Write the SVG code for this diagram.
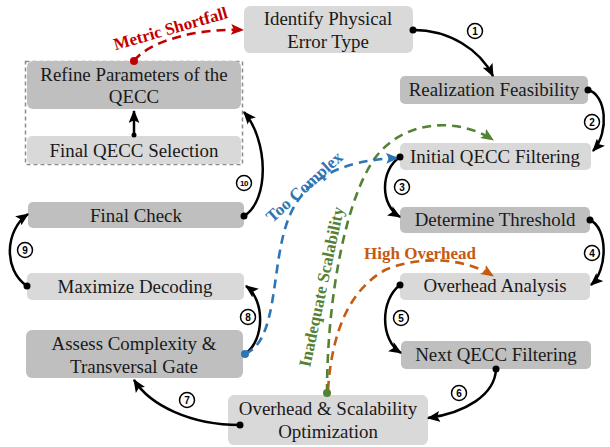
<svg xmlns="http://www.w3.org/2000/svg" width="610" height="447" viewBox="0 0 610 447">
  <defs>
    <marker id="ah-black" viewBox="0 0 12 10" refX="11" refY="5" markerWidth="13" markerHeight="11" markerUnits="userSpaceOnUse" orient="auto">
      <path d="M0,0 L12,5 L0,10 L2.5,5 z" fill="#000"/>
    </marker>
    <marker id="ah-red" viewBox="0 0 12 10" refX="11" refY="5" markerWidth="13" markerHeight="11" markerUnits="userSpaceOnUse" orient="auto">
      <path d="M0,0 L12,5 L0,10 L2.5,5 z" fill="#c00000"/>
    </marker>
    <marker id="ah-blue" viewBox="0 0 12 10" refX="11" refY="5" markerWidth="13" markerHeight="11" markerUnits="userSpaceOnUse" orient="auto">
      <path d="M0,0 L12,5 L0,10 L2.5,5 z" fill="#2e75b6"/>
    </marker>
    <marker id="ah-green" viewBox="0 0 12 10" refX="11" refY="5" markerWidth="13" markerHeight="11" markerUnits="userSpaceOnUse" orient="auto">
      <path d="M0,0 L12,5 L0,10 L2.5,5 z" fill="#548235"/>
    </marker>
    <marker id="ah-orange" viewBox="0 0 12 10" refX="11" refY="5" markerWidth="13" markerHeight="11" markerUnits="userSpaceOnUse" orient="auto">
      <path d="M0,0 L12,5 L0,10 L2.5,5 z" fill="#c55a11"/>
    </marker>
  </defs>
  <style>
    .box-l { fill: #d9d9d9; }
    .box-d { fill: #bfbfbf; }
    .lbl { font-family: "Liberation Serif", "Times New Roman", serif; font-size: 18.9px; fill: #1a1a1a; text-anchor: middle; }
    .flow { fill: none; stroke: #000; stroke-width: 2.5; marker-end: url(#ah-black); }
    .dot { fill: #000; }
    .num circle { fill: #fff; stroke: #000; stroke-width: 1.5; }
    .num text { font-family: "Liberation Sans", Arial, sans-serif; font-weight: bold; font-size: 10px; text-anchor: middle; fill: #000; }
    .dash { fill: none; stroke-width: 2.6; stroke-dasharray: 9 6; }
    .tag { font-family: "Liberation Serif", "Times New Roman", serif; font-weight: bold; font-size: 17px; text-anchor: middle; }
  </style>

  <!-- dashed container around the final selection / refinement pair -->
  <rect x="25.5" y="61.5" width="217" height="103" fill="none" stroke="#8c8c8c" stroke-width="1.5" stroke-dasharray="4 3"/>

  <!-- nodes -->
  <g id="identify">
    <rect class="box-l" x="244" y="6" width="169" height="47" rx="6"/>
    <text class="lbl" x="328" y="25">Identify Physical</text>
    <text class="lbl" x="328" y="48">Error Type</text>
  </g>
  <g id="realization">
    <rect class="box-d" x="400" y="76" width="188" height="28" rx="5"/>
    <text class="lbl" x="494" y="96">Realization Feasibility</text>
  </g>
  <g id="initial-filter">
    <rect class="box-l" x="400" y="143" width="191" height="27" rx="5"/>
    <text class="lbl" x="495" y="163">Initial QECC Filtering</text>
  </g>
  <g id="threshold">
    <rect class="box-d" x="400" y="207" width="190" height="26" rx="5"/>
    <text class="lbl" x="495" y="226">Determine Threshold</text>
  </g>
  <g id="overhead-analysis">
    <rect class="box-l" x="400" y="273" width="190" height="27" rx="5"/>
    <text class="lbl" x="495" y="292">Overhead Analysis</text>
  </g>
  <g id="next-filter">
    <rect class="box-d" x="401" y="341" width="190" height="28" rx="5"/>
    <text class="lbl" x="496" y="361">Next QECC Filtering</text>
  </g>
  <g id="optimization">
    <rect class="box-l" x="228" y="395" width="200" height="50" rx="6"/>
    <text class="lbl" x="328" y="415">Overhead &amp; Scalability</text>
    <text class="lbl" x="328" y="438">Optimization</text>
  </g>
  <g id="assess">
    <rect class="box-d" x="26" y="330" width="217" height="48" rx="6"/>
    <text class="lbl" x="134" y="350">Assess Complexity &amp;</text>
    <text class="lbl" x="134" y="373">Transversal Gate</text>
  </g>
  <g id="maximize">
    <rect class="box-l" x="27" y="273" width="217" height="27" rx="5"/>
    <text class="lbl" x="135" y="293">Maximize Decoding</text>
  </g>
  <g id="final-check">
    <rect class="box-d" x="28" y="202" width="216" height="26" rx="5"/>
    <text class="lbl" x="136" y="222">Final Check</text>
  </g>
  <g id="final-selection">
    <rect class="box-l" x="27" y="136" width="214" height="28" rx="5"/>
    <text class="lbl" x="134" y="157">Final QECC Selection</text>
  </g>
  <g id="refine">
    <rect class="box-d" x="27" y="61" width="214" height="48" rx="6"/>
    <text class="lbl" x="134" y="81">Refine Parameters of the</text>
    <text class="lbl" x="134" y="103">QECC</text>
  </g>

  <!-- connectors -->
  <g id="connectors">
    <!-- main numbered flow -->
    <path class="flow" d="M413,30 C450,30 480,50 493,76"/>
    <path class="flow" d="M588,90 C606,94 610,132 593,151"/>
    <path class="flow" d="M400,157 C380,170 380,205 400,217"/>
    <path class="flow" d="M590,220 C608,228 608,270 591,285"/>
    <path class="flow" d="M400,285 C380,300 380,340 401,353"/>
    <path class="flow" d="M496,369 C495,395 465,413 428,418"/>
    <path class="flow" d="M240,425 C190,425 150,405 134,380"/>
    <path class="flow" d="M245,354 C265,340 265,300 246,286"/>
    <path class="flow" d="M27,286 C3,270 5,230 28,214"/>
    <path class="flow" d="M244,216 C270,200 268,140 244,112"/>
    <path class="flow" d="M134,135 L134,111" stroke-width="2"/>

    <!-- feedback paths -->
    <path class="dash" stroke="#c55a11" marker-end="url(#ah-orange)" d="M328,390 C332,330 350,290 385,270 C420,255 465,258 493,276"/>
    <path class="dash" stroke="#548235" marker-end="url(#ah-green)" d="M327,393 C327,300 345,200 375,158 C405,118 460,118 493,140"/>
    <path class="dash" stroke="#2e75b6" marker-end="url(#ah-blue)" d="M245,354 C280,340 270,260 290,215 C305,180 340,160 398,158"/>
    <path class="dash" stroke="#c00000" marker-end="url(#ah-red)" d="M134,61 C150,40 200,28 243,30"/>

    <!-- start dots -->
    <circle class="dot" cx="413" cy="30" r="3.5"/>
    <circle class="dot" cx="588" cy="90" r="3.5"/>
    <circle class="dot" cx="400" cy="157" r="3.5"/>
    <circle class="dot" cx="590" cy="220" r="3.5"/>
    <circle class="dot" cx="400" cy="285" r="3.5"/>
    <circle class="dot" cx="496" cy="369" r="3.5"/>
    <circle class="dot" cx="240" cy="425" r="3.5"/>
    <circle class="dot" cx="27" cy="286" r="3.5"/>
    <circle class="dot" cx="244" cy="216" r="3.5"/>
    <circle class="dot" cx="134" cy="135" r="2.5"/>
    <circle cx="245" cy="354" r="4" fill="#2e75b6"/>
    <circle cx="327" cy="393" r="4" fill="#548235"/>
    <circle cx="134" cy="61" r="4" fill="#c00000"/>

    <!-- step numbers -->
    <g class="num"><circle cx="475" cy="31" r="7.5"/><text x="475" y="34.5">1</text></g>
    <g class="num"><circle cx="592" cy="122" r="7.5"/><text x="592" y="125.5">2</text></g>
    <g class="num"><circle cx="402" cy="187" r="7.5"/><text x="402" y="190.5">3</text></g>
    <g class="num"><circle cx="592" cy="253" r="7.5"/><text x="592" y="256.5">4</text></g>
    <g class="num"><circle cx="401" cy="318" r="7.5"/><text x="401" y="321.5">5</text></g>
    <g class="num"><circle cx="459" cy="393" r="7.5"/><text x="459" y="396.5">6</text></g>
    <g class="num"><circle cx="187" cy="400" r="7.5"/><text x="187" y="403.5">7</text></g>
    <g class="num"><circle cx="248" cy="317" r="7.5"/><text x="248" y="320.5">8</text></g>
    <g class="num"><circle cx="25" cy="250" r="7.5"/><text x="25" y="253.5">9</text></g>
    <g class="num"><circle cx="244" cy="183" r="7.5"/><text x="244" y="186" style="font-size:8px;letter-spacing:-0.5px">10</text></g>

    <!-- feedback labels -->
    <text class="tag" fill="#c00000" transform="translate(172,34) rotate(-16)">Metric Shortfall</text>
    <text class="tag" fill="#2e75b6" transform="translate(308,191) rotate(-42)">Too Complex</text>
    <text class="tag" fill="#548235" transform="translate(327,288) rotate(-78)">Inadequate Scalability</text>
    <text class="tag" fill="#c55a11" x="420" y="259">High Overhead</text>
  </g>
</svg>
